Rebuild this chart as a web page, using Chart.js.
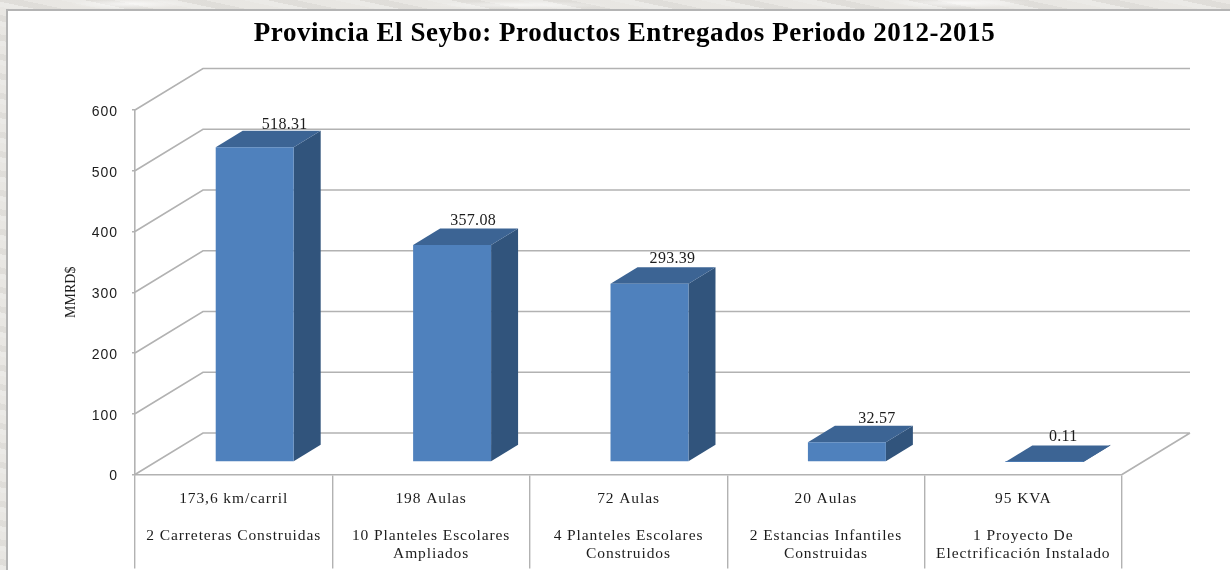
<!DOCTYPE html>
<html>
<head>
<meta charset="utf-8">
<script src="https://cdn.jsdelivr.net/npm/chart.js@4"></script>
<style>
html,body{margin:0;padding:0;width:1230px;height:570px;overflow:hidden;background:#e6e4e0;}
#bg{position:absolute;left:0;top:0;width:1230px;height:570px;background:
 radial-gradient(ellipse 60px 5px at 130px 4px,rgba(255,255,255,.7),transparent),
 radial-gradient(ellipse 90px 4px at 520px 5px,rgba(255,255,255,.6),transparent),
 radial-gradient(ellipse 70px 5px at 960px 3px,rgba(255,255,255,.7),transparent),
 repeating-linear-gradient(12deg,rgba(255,255,255,.22) 0 5px,rgba(190,188,184,.16) 5px 11px,rgba(255,255,255,.1) 11px 19px);}
#frame{position:absolute;left:6px;top:9px;width:1224px;height:561px;background:#fff;border-left:2px solid #b4b4b4;border-top:2px solid #b4b4b4;box-sizing:border-box;}
#wrap{position:absolute;left:0;top:0;width:1230px;height:570px;}
</style>
</head>
<body>
<div id="bg"></div><div id="frame"></div>
<div id="wrap"><canvas id="c" width="1230" height="570"></canvas></div>
<script>
const titleText = 'Provincia El Seybo: Productos Entregados Periodo 2012-2015';
const yAxisTitle = 'MMRD$';
const quantities = ['173,6 km/carril','198 Aulas','72 Aulas','20 Aulas','95 KVA'];
const products = [
  ['2 Carreteras Construidas'],
  ['10 Planteles Escolares','Ampliados'],
  ['4 Planteles Escolares','Construidos'],
  ['2 Estancias Infantiles','Construidas'],
  ['1 Proyecto De','Electrificación Instalado']
];
const values = [518.31,357.08,293.39,32.57,0.11];
const valueLabels = ['518.31','357.08','293.39','32.57','0.11'];
const yTicks = [0,100,200,300,400,500,600];

const categories = quantities.map((q,i)=>[q,'',...products[i]]);
const labelNudgeX = [51,42,44,51,40];
const labelNudgeY = [2,4,4.5,3,4];
const DX=68, DY=41.5, BX=21, BY=12.5, SX=27, SY=16.5;
const GRID='#b2b2b2', SERIF='"Liberation Serif"', SANS='"Liberation Sans"';

function spaced(obj,name,spacing,shiftX,shiftY){
  const orig=obj[name];
  obj[name]=function(...args){
    const ctx=this.ctx;
    ctx.save();
    ctx.letterSpacing=spacing;
    ctx.translate(shiftX,shiftY);
    orig.apply(this,args);
    ctx.restore();
  };
}

const scene = {
  id:'scene',
  afterLayout(chart){
    if(chart.$spaced) return;
    chart.$spaced=true;
    spaced(chart.titleBlock,'draw','0.55px',63.5,0);
    spaced(chart.scales.x,'drawLabels','0.9px',0,0);
    spaced(chart.scales.y,'drawLabels','1px',0,2);
  },
  beforeDatasetsDraw(chart){
    const {ctx,scales:{y},chartArea:a}=chart;
    ctx.save();
    ctx.strokeStyle=GRID;ctx.lineWidth=1.6;
    ctx.beginPath();
    yTicks.forEach(t=>{
      const py=y.getPixelForValue(t);
      ctx.moveTo(a.left,py);ctx.lineTo(a.left+DX,py-DY);ctx.lineTo(a.right+DX,py-DY);
    });
    const by=y.getPixelForValue(0);
    ctx.moveTo(a.right,by);ctx.lineTo(a.right+DX,by-DY);
    ctx.stroke();
    ctx.restore();
  },
  beforeDatasetDraw(chart,args){
    const {ctx}=chart;
    const meta=chart.getDatasetMeta(args.index);
    ctx.save();
    ctx.translate(BX,-BY);
    meta.data.forEach(b=>{
      const l=b.x-b.width/2,r=b.x+b.width/2,t=b.y,bs=b.base;
      ctx.fillStyle='#31547c';
      ctx.beginPath();ctx.moveTo(r,t);ctx.lineTo(r+SX,t-SY);ctx.lineTo(r+SX,bs-SY);ctx.lineTo(r,bs);ctx.closePath();ctx.fill();
      ctx.fillStyle='#3c6494';
      ctx.beginPath();ctx.moveTo(l,t);ctx.lineTo(l+SX,t-SY);ctx.lineTo(r+SX,t-SY);ctx.lineTo(r,t);ctx.closePath();ctx.fill();
    });
  },
  afterDatasetDraw(chart,args){
    const {ctx}=chart;
    ctx.restore();
    const meta=chart.getDatasetMeta(args.index);
    ctx.save();
    ctx.fillStyle='#1c1c1c';
    ctx.font='16px '+SERIF;
    ctx.textAlign='center';ctx.textBaseline='alphabetic';
    ctx.letterSpacing='0.3px';
    meta.data.forEach((b,i)=>{
      ctx.fillText(valueLabels[i],b.x+labelNudgeX[i],b.y-BY-SY-labelNudgeY[i]);
    });
    ctx.restore();
  }
};

new Chart(document.getElementById('c'),{
  type:'bar',
  data:{labels:categories,datasets:[{
    data:values,backgroundColor:'#4f81bd',borderWidth:0,
    categoryPercentage:1,barPercentage:0.395
  }]},
  options:{
    responsive:false,animation:false,
    layout:{padding:{left:0,right:108,top:0,bottom:0}},
    plugins:{
      legend:{display:false},tooltip:{enabled:false},
      title:{display:true,text:titleText,color:'#000',
        font:{family:SERIF,size:27,weight:'bold',lineHeight:1.2},
        padding:{top:18,bottom:59.6}}
    },
    scales:{
      x:{
        offset:true,
        border:{display:true,color:GRID,width:1.6},
        grid:{offset:true,drawOnChartArea:false,drawTicks:true,tickLength:94,color:GRID,lineWidth:1.4},
        ticks:{color:'#1c1c1c',maxRotation:0,autoSkip:false,padding:-79,
          font:{family:SERIF,size:15.5,lineHeight:1.19}},
        afterFit(s){s.height=95.5;}
      },
      y:{
        min:0,max:600,
        border:{display:true,color:GRID,width:1.6},
        grid:{drawOnChartArea:false,drawTicks:true,tickLength:3,color:GRID,lineWidth:1.4},
        ticks:{color:'#1c1c1c',stepSize:100,padding:14,font:{family:SANS,size:14}},
        title:{display:true,text:yAxisTitle,color:'#1c1c1c',font:{family:SERIF,size:14},padding:{top:63,bottom:0}},
        afterFit(s){s.width=135;}
      }
    }
  },
  plugins:[scene]
});
</script>
</body>
</html>
